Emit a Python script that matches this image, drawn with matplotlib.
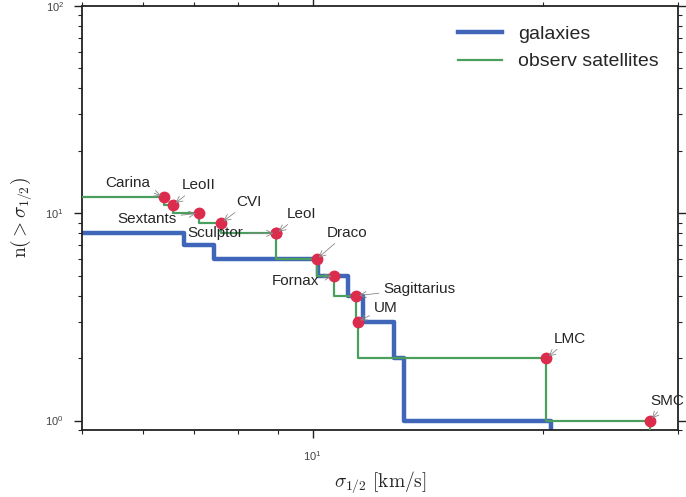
import numpy as np
import matplotlib
matplotlib.use("Agg")
import matplotlib.pyplot as plt

plt.rcParams['mathtext.fontset'] = 'cm'
plt.rcParams['font.family'] = ['Liberation Sans', 'DejaVu Sans']

# ---------------- data ----------------
galaxy_sigma = [6.79, 7.43, 10.18, 11.14, 11.62, 12.76, 13.15, 20.45]

sat_names = ["Carina", "LeoII", "Sextants", "CVI", "Sculptor", "LeoI",
             "Draco", "Fornax", "Sagittarius", "UM", "LMC", "SMC"]
sat_sigma = [6.39, 6.58, 7.10, 7.60, 8.97, 8.97,
             10.12, 10.68, 11.41, 11.45, 20.2, 27.6]

xlim = (5, 30)
ylim = (0.9, 100)

# label placement (offset points from the marker)
label_offsets = {
    "Carina": (-26, 10), "LeoII": (18, 14), "Sextants": (-37, -4),
    "CVI": (20, 15), "Sculptor": (-44, 0), "LeoI": (18, 14),
    "Draco": (22, 19), "Fornax": (-28, -4), "Sagittarius": (45, 5),
    "UM": (20, 10), "LMC": (17, 14), "SMC": (12, 14),
}

BLUE = '#3f66b8'
GREEN = '#4a9f5e'
RED = '#dc2c4e'
TXT = '#262626'


def cumulative_steps(sig):
    s = np.sort(np.asarray(sig, dtype=float))
    n = len(s) - np.arange(len(s))
    x = np.concatenate([[s[0] / 2.0], s, [s[-1]]])
    y = np.concatenate([[n[0]], n, [0.0]])
    return x, y


fig = plt.figure(figsize=(6.86, 4.97), dpi=100)
ax = fig.add_axes([82 / 686, 1 - 430 / 497, (678 - 82) / 686, (430 - 6) / 497])
ax.set_xscale('log')
ax.set_yscale('log')

gx, gy = cumulative_steps(galaxy_sigma)
ax.plot(gx, gy, drawstyle='steps-pre', color=BLUE, lw=3.2, label='galaxies',
        zorder=2)
sx, sy = cumulative_steps(sat_sigma)
ax.plot(sx, sy, drawstyle='steps-pre', color=GREEN, lw=1.6,
        label='observ satellites', zorder=3)

sat_arr = np.asarray(sat_sigma)
sat_n = np.array([np.sum(sat_arr >= v) for v in sat_arr])
ax.plot(sat_arr, sat_n, 'o', color=RED, ms=7.5, zorder=4, mec=RED)

for name, xv, nv in zip(sat_names, sat_arr, sat_n):
    ax.annotate(name, xy=(xv, nv), xytext=label_offsets[name],
                textcoords='offset points', ha='center', va='center',
                fontsize=11, color=TXT,
                arrowprops=dict(arrowstyle='->', color='#888888', lw=0.6,
                                shrinkA=1, shrinkB=2),
                zorder=5)

ax.set_xlim(*xlim)
ax.set_ylim(*ylim)

ax.tick_params(which='both', direction='out', top=True, right=True,
               labelsize=8, labelcolor='#444444', color='#222222')
ax.tick_params(which='major', length=6, width=1)
ax.tick_params(which='minor', length=3, width=0.8)
ax.tick_params(axis='x', which='both', pad=8)
ax.tick_params(axis='y', which='both', pad=7)
ax.xaxis.set_minor_formatter(matplotlib.ticker.NullFormatter())

for sp in ax.spines.values():
    sp.set_linewidth(1.3)
    sp.set_color('#222222')

ax.set_xlabel(r'$\sigma_{1/2}\ [\mathrm{km/s}]$', fontsize=14, color=TXT,
              labelpad=4)
ax.set_ylabel(r'$\mathrm{n}(>\sigma_{1/2})$', fontsize=14, color=TXT,
              labelpad=8)

leg = ax.legend(loc='upper right', frameon=False, fontsize=14,
                handlelength=2.3, borderaxespad=0.6)
for t in leg.get_texts():
    t.set_color(TXT)

fig.savefig('out.png', dpi=100)
